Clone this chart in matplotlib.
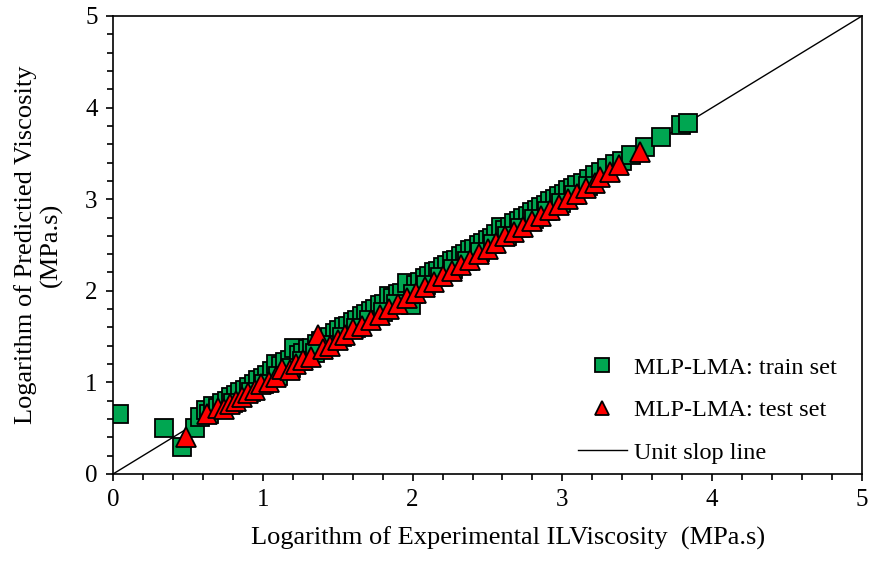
import numpy as np
import matplotlib
matplotlib.use('Agg')
import matplotlib.pyplot as plt
from matplotlib.ticker import MultipleLocator

plt.rcParams['font.family'] = ['Liberation Serif', 'DejaVu Serif']

# train set (experimental, predicted)
train_x = [0.04, 0.34, 0.46, 0.55, 0.58, 0.62, 0.64, 0.67, 0.70, 0.73, 0.76, 0.79, 0.82, 0.85,
           0.88, 0.91, 0.94, 0.97, 1.00, 1.03, 1.06, 1.09, 1.12, 1.15, 1.18, 1.21, 1.24, 1.27,
           1.30, 1.33, 1.36, 1.39, 1.42, 1.45, 1.48, 1.51, 1.54, 1.57, 1.60, 1.63, 1.66, 1.69,
           1.72, 1.75, 1.78, 1.81, 1.84, 1.87, 1.90, 1.93, 1.96, 1.99, 2.02, 2.05, 2.08, 2.11,
           2.14, 2.17, 2.20, 2.23, 2.26, 2.29, 2.32, 2.35, 2.38, 2.41, 2.44, 2.47, 2.50, 2.53,
           2.56, 2.59, 2.62, 2.65, 2.68, 2.71, 2.74, 2.77, 2.80, 2.83, 2.86, 2.89, 2.92, 2.95,
           2.98, 3.01, 3.04, 3.07, 3.10, 3.14, 3.18, 3.22, 3.26, 3.30, 3.35, 3.40, 3.46, 3.55,
           3.66, 3.79, 3.84,
           0.80, 0.92, 1.01, 1.10, 1.19, 1.26, 1.35, 1.44, 1.53, 1.62, 1.71, 1.80, 1.89, 2.00,
           2.09, 2.18, 2.27, 2.36, 2.45, 2.54, 2.63, 2.72, 2.81, 2.90, 2.99, 3.08, 3.17]
train_y = [0.66, 0.50, 0.29, 0.50, 0.62, 0.70, 0.66, 0.74, 0.72, 0.78, 0.80, 0.84, 0.86, 0.90,
           0.92, 0.95, 0.98, 1.03, 1.05, 1.08, 1.12, 1.20, 1.18, 1.22, 1.24, 1.38, 1.30, 1.32,
           1.36, 1.38, 1.42, 1.45, 1.46, 1.50, 1.54, 1.57, 1.60, 1.62, 1.66, 1.68, 1.72, 1.75,
           1.78, 1.80, 1.84, 1.86, 1.94, 1.92, 1.96, 1.98, 2.08, 1.84, 2.06, 2.10, 2.14, 2.16,
           2.20, 2.22, 2.26, 2.28, 2.32, 2.34, 2.38, 2.40, 2.44, 2.46, 2.50, 2.52, 2.56, 2.58,
           2.62, 2.70, 2.66, 2.70, 2.74, 2.76, 2.80, 2.82, 2.86, 2.88, 2.92, 2.94, 2.98, 3.00,
           3.04, 3.06, 3.10, 3.12, 3.16, 3.18, 3.22, 3.26, 3.30, 3.34, 3.38, 3.42, 3.48, 3.57,
           3.68, 3.81, 3.83,
           0.77, 0.89, 0.98, 1.07, 1.16, 1.23, 1.32, 1.41, 1.50, 1.59, 1.68, 1.77, 1.86, 1.97,
           2.06, 2.15, 2.24, 2.33, 2.42, 2.51, 2.60, 2.69, 2.78, 2.87, 2.96, 3.05, 3.14]

# test set
test_x = [0.49, 0.63, 0.70, 0.74, 0.78, 0.82, 0.86, 0.90, 0.95, 0.99, 1.04, 1.09, 1.13, 1.18,
          1.22, 1.27, 1.32, 1.37, 1.40, 1.45, 1.50, 1.55, 1.60, 1.66, 1.72, 1.78, 1.84, 1.90,
          1.96, 2.02, 2.08, 2.14, 2.20, 2.26, 2.32, 2.38, 2.44, 2.50, 2.56, 2.62, 2.68, 2.74,
          2.80, 2.86, 2.92, 2.98, 3.04, 3.10, 3.16, 3.22, 3.25, 3.32, 3.38, 3.52]
test_y = [0.40, 0.66, 0.72, 0.71, 0.76, 0.80, 0.84, 0.88, 0.92, 0.98, 1.00, 1.06, 1.15, 1.14,
          1.20, 1.24, 1.28, 1.52, 1.36, 1.40, 1.46, 1.52, 1.58, 1.62, 1.68, 1.74, 1.80, 1.86,
          1.92, 1.98, 2.04, 2.10, 2.16, 2.22, 2.28, 2.34, 2.40, 2.46, 2.52, 2.60, 2.64, 2.70,
          2.76, 2.82, 2.88, 2.94, 3.00, 3.06, 3.12, 3.18, 3.24, 3.30, 3.37, 3.52]

unit_line = [0, 5]

fig = plt.figure(figsize=(8.71, 5.61), dpi=100)
ax = fig.add_axes([113/871, 87/561, 749/871, 458/561])

ax.plot(unit_line, unit_line, '-', color='black', lw=1.0, label='Unit slop line', zorder=1)
ax.plot(train_x, train_y, 's', ms=13, mfc='#00a651', mec='black', mew=1.3,
        label='MLP-LMA: train set', zorder=2)
ax.plot(test_x, test_y, '^', ms=14, mfc='#ff0000', mec='black', mew=1.3,
        label='MLP-LMA: test set', zorder=3)

ax.set_xlim(0, 5)
ax.set_ylim(0, 5)
ax.xaxis.set_major_locator(MultipleLocator(1))
ax.yaxis.set_major_locator(MultipleLocator(1))
ax.xaxis.set_minor_locator(MultipleLocator(0.2))
ax.yaxis.set_minor_locator(MultipleLocator(0.2))
ax.tick_params(which='major', direction='out', length=5, width=1.2, labelsize=18, pad=6)
ax.tick_params(which='minor', direction='out', length=4, width=1.2)
for s in ax.spines.values():
    s.set_linewidth(1.2)

ax.set_xlabel('Logarithm of Experimental ILViscosity  (MPa.s)', fontsize=19, labelpad=11)
ax.xaxis.label.set_x(0.527)
ax.set_ylabel('Logarithm of Predictied Viscosity\n(MPa.s)', fontsize=19, labelpad=16,
              linespacing=1.15)

h, l = ax.get_legend_handles_labels()
leg = ax.legend([h[1], h[2], h[0]], [l[1], l[2], l[0]], loc='lower right',
                bbox_to_anchor=(0.986, -0.01), frameon=False, fontsize=17.5, markerscale=0.75,
                handlelength=2.0, handletextpad=0.3, labelspacing=0.85,
                borderaxespad=0.2)

plt.savefig('out.png', dpi=100)
